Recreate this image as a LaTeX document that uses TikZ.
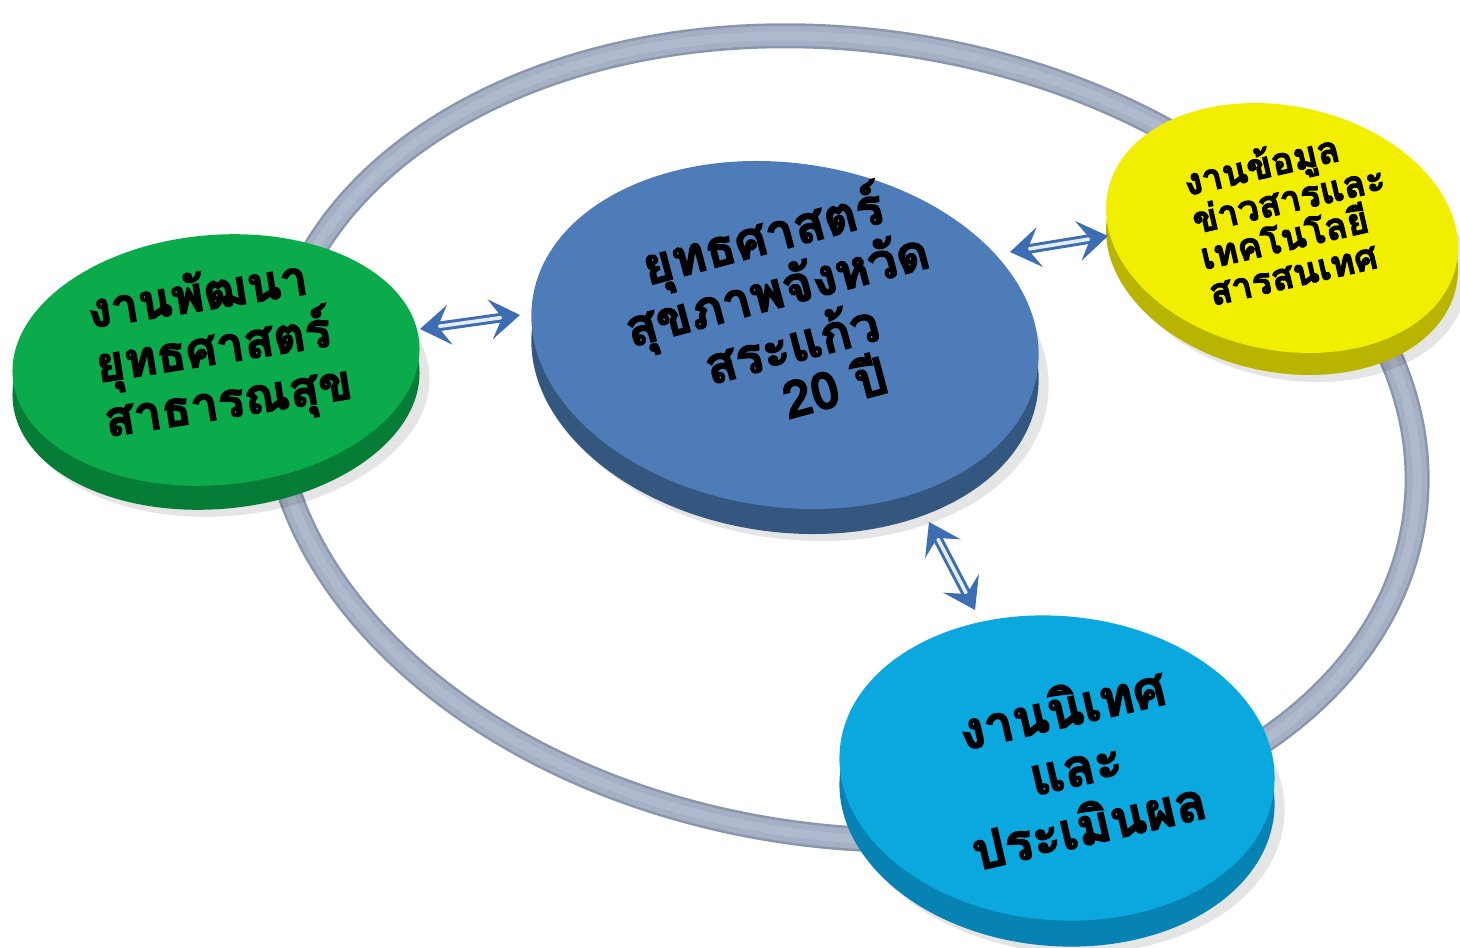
\documentclass[tikz,border=0pt]{standalone}
\usepackage{fontspec}
\newfontfamily\thai[Script=Thai, BoldFeatures={FakeBold=2.5}]{Loma}
\usetikzlibrary{shapes.geometric,arrows.meta}
\definecolor{ringdark}{HTML}{8A96AD}
\definecolor{ringmid}{HTML}{A5B0C5}
\definecolor{ringlight}{HTML}{AFBACE}
\definecolor{greentop}{HTML}{0BAA4B}
\definecolor{greenside}{HTML}{067D36}
\definecolor{bluetop}{HTML}{4D7CB8}
\definecolor{blueside}{HTML}{34577F}
\definecolor{yellowtop}{HTML}{F2EE00}
\definecolor{yellowside}{HTML}{B9B400}
\definecolor{cyantop}{HTML}{0BA8E0}
\definecolor{cyanside}{HTML}{0683B3}
\definecolor{arrowblue}{HTML}{3D6DB2}
\definecolor{arrowlight}{HTML}{E4ECF7}
\tikzset{
  face/.style={ellipse, draw=none, inner sep=0pt, outer sep=0pt},
  shadowdisc/.style={ellipse, draw=none, inner sep=0pt, outer sep=0pt, fill=black, opacity=0.10},
  txt/.style={font=\thai\bfseries, text=black, align=center, inner sep=0pt},
  link/.style={draw=arrowblue, line width=3pt, double=arrowlight, double distance=3.6pt,
    {Stealth[length=30pt,width=40pt,inset=12pt]}-{Stealth[length=30pt,width=40pt,inset=12pt]}}
}
\begin{document}
\begin{tikzpicture}[x=1pt,y=1pt]
\useasboundingbox (0,0) rectangle (1460,-948);
% ring
\begin{scope}[rotate around={-8:(845,-438)}]
  \draw[ringdark, line width=25pt] (845,-438) ellipse [x radius=575, y radius=398];
  \draw[ringmid, line width=20pt] (845,-438) ellipse [x radius=575, y radius=398];
  \draw[ringlight, line width=9pt] (845,-438) ellipse [x radius=575, y radius=398];
\end{scope}
% green disc
\node[shadowdisc, minimum width=412pt, minimum height=252pt, rotate=5] (gsh) at (224,-390) {};
\node[face, fill=greenside, minimum width=408pt, minimum height=250pt, rotate=5] (gside) at (216,-384) {};
\node[face, fill=greentop, minimum width=408pt, minimum height=250pt, rotate=5] (g) at (216,-360) {};
% blue disc
\node[shadowdisc, minimum width=514pt, minimum height=346pt, rotate=-8] (bsh) at (793,-366) {};
\node[face, fill=blueside, minimum width=510pt, minimum height=344pt, rotate=-8] (bside) at (785,-360) {};
\node[face, fill=bluetop, minimum width=510pt, minimum height=344pt, rotate=-8] (b) at (785,-335) {};
% yellow disc
\node[shadowdisc, minimum width=360pt, minimum height=246pt, rotate=-12] (ysh) at (1290,-256) {};
\node[face, fill=yellowside, minimum width=356pt, minimum height=244pt, rotate=-12] (yside) at (1282,-250) {};
\node[face, fill=yellowtop, minimum width=356pt, minimum height=244pt, rotate=-12] (y) at (1282,-228) {};
% cyan disc
\node[shadowdisc, minimum width=440pt, minimum height=306pt, rotate=-5] (csh) at (1065,-800) {};
\node[face, fill=cyanside, minimum width=436pt, minimum height=304pt, rotate=-5] (cside) at (1057,-794) {};
\node[face, fill=cyantop, minimum width=436pt, minimum height=304pt, rotate=-5] (c) at (1057,-768) {};
% texts
\node[txt, font=\thai\bfseries\fontsize{51pt}{53pt}\selectfont, rotate=15] (bt) at (783,-312)
  {ยุทธศาสตร์\\สุขภาพจังหวัด\\สระแก้ว\\\hspace*{1.2em}20 ปี};
\node[txt, font=\thai\bfseries\fontsize{49pt}{55pt}\selectfont, rotate=9, align=left] (gt) at (220,-350)
  {งานพัฒนา\\ยุทธศาสตร์\\สาธารณสุข};
\node[txt, font=\thai\bfseries\fontsize{37pt}{37pt}\selectfont, rotate=13, align=left] (yt) at (1292,-214)
  {งานข้อมูล\\ข่าวสารและ\\เทคโนโลยี\\สารสนเทศ};
\node[txt, font=\thai\bfseries\fontsize{52pt}{60pt}\selectfont, rotate=13] (ct) at (1075,-765)
  {งานนิเทศ\\และ\\ประเมินผล};
% arrows
\coordinate (l1) at (420,-329);
\coordinate (l2) at (520,-315);
\coordinate (r1) at (1010,-252);
\coordinate (r2) at (1108,-236);
\coordinate (d1) at (929,-522);
\coordinate (d2) at (975,-610);
\draw[link] (l1) -- (l2);
\draw[link] (r1) -- (r2);
\draw[link] (d1) -- (d2);
\end{tikzpicture}
\end{document}
